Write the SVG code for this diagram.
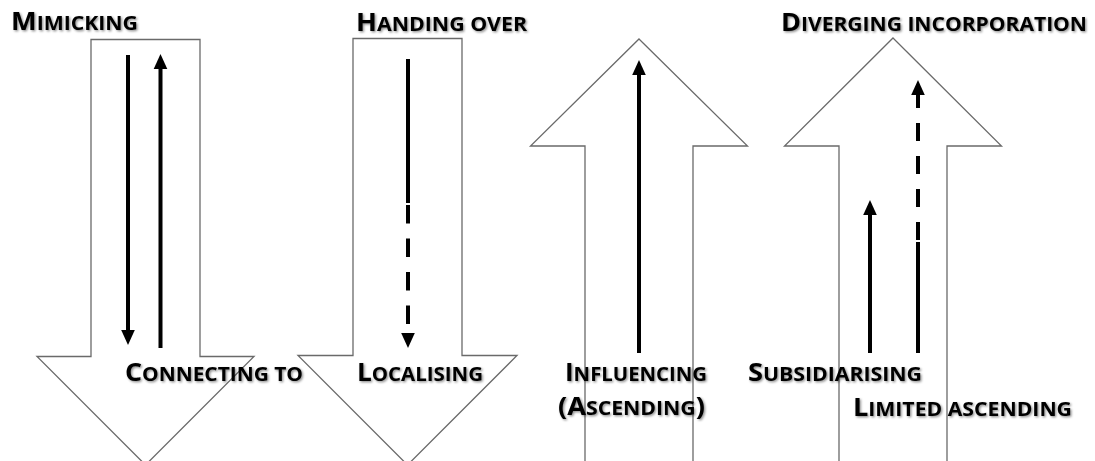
<svg xmlns="http://www.w3.org/2000/svg" xmlns:xlink="http://www.w3.org/1999/xlink" width="1095" height="461" viewBox="0 0 1095 461">
<style>
.outline{fill:#fff;stroke:#6a6a6a;stroke-width:1.3;stroke-linejoin:miter}
.shaft{stroke:#000;stroke-width:4;fill:none}
.dash{stroke:#000;stroke-width:4;fill:none;stroke-dasharray:18.5 15}
.lbl{font-family:"Open Sans","Liberation Sans",sans-serif;font-weight:700;fill:#000;filter:url(#sh)}
.b{font-size:25px}
.s{font-size:19.5px}
</style>
<defs>
<filter id="sh" x="-10%" y="-30%" width="120%" height="160%">
<feDropShadow dx="1.3" dy="1.3" stdDeviation="1.1" flood-color="#000" flood-opacity="0.45"/>
</filter>
<path id="head" d="M0,0 L6.8,15 L-6.8,15 Z" fill="#000"/>
</defs>
<rect width="1095" height="461" fill="#fff"/>

<g id="arrow-mimicking">
<polygon class="outline" points="91,39.5 200,39.5 200,356.5 254,356.5 145.5,465 37,356.5 91,356.5"/>
</g>
<g id="arrow-handing-over">
<polygon class="outline" points="353,38.5 462,38.5 462,355.5 517,355.5 407.5,465 298,355.5 353,355.5"/>
</g>
<g id="arrow-influencing">
<polygon class="outline" points="639,39 747.5,146 693,146 693,470 585,470 585,146 530.5,146"/>
</g>
<g id="arrow-diverging">
<polygon class="outline" points="893,38 1001.5,146 947,146 947,470 839,470 839,146 784.5,146"/>
</g>

<g id="connectors">
<line class="shaft" x1="128" y1="55" x2="128" y2="332"/>
<use xlink:href="#head" transform="translate(128,345) rotate(180)"/>
<line class="shaft" x1="160.5" y1="348" x2="160.5" y2="67"/>
<use xlink:href="#head" transform="translate(160.5,54)"/>

<line class="shaft" x1="408" y1="59" x2="408" y2="203"/>
<line class="dash" x1="408" y1="205" x2="408" y2="324"/>
<use xlink:href="#head" transform="translate(408,348) rotate(180)"/>

<line class="shaft" x1="639" y1="353" x2="639" y2="73"/>
<use xlink:href="#head" transform="translate(639,60)"/>

<line class="shaft" x1="870" y1="353" x2="870" y2="213"/>
<use xlink:href="#head" transform="translate(870,200)"/>

<line class="shaft" x1="918" y1="353" x2="918" y2="242"/>
<line class="dash" x1="918" y1="240" x2="918" y2="106" style="stroke-dasharray:18 15"/>
<line class="shaft" x1="918" y1="108" x2="918" y2="93"/>
<use xlink:href="#head" transform="translate(918,80)"/>
</g>

<g id="label-mimicking"><text class="lbl" x="11" y="30" textLength="127" lengthAdjust="spacingAndGlyphs"><tspan class="b">M</tspan><tspan class="s">IMICKING</tspan></text></g>
<g id="label-handing-over"><text class="lbl" x="356" y="31" textLength="171" lengthAdjust="spacingAndGlyphs"><tspan class="b">H</tspan><tspan class="s">ANDING OVER</tspan></text></g>
<g id="label-diverging"><text class="lbl" x="781" y="31" textLength="306" lengthAdjust="spacingAndGlyphs"><tspan class="b">D</tspan><tspan class="s">IVERGING INCORPORATION</tspan></text></g>
<g id="label-connecting"><text class="lbl" x="125" y="381" textLength="178" lengthAdjust="spacingAndGlyphs"><tspan class="b">C</tspan><tspan class="s">ONNECTING TO</tspan></text></g>
<g id="label-localising"><text class="lbl" x="357" y="381" textLength="126" lengthAdjust="spacingAndGlyphs"><tspan class="b">L</tspan><tspan class="s">OCALISING</tspan></text></g>
<g id="label-influencing"><text class="lbl" x="565" y="381" textLength="142" lengthAdjust="spacingAndGlyphs"><tspan class="b">I</tspan><tspan class="s">NFLUENCING</tspan></text>
<text class="lbl" x="558" y="415" textLength="147" lengthAdjust="spacingAndGlyphs"><tspan class="b">(A</tspan><tspan class="s">SCENDING</tspan><tspan class="b">)</tspan></text></g>
<g id="label-subsidiarising"><text class="lbl" x="748" y="381" textLength="174" lengthAdjust="spacingAndGlyphs"><tspan class="b">S</tspan><tspan class="s">UBSIDIARISING</tspan></text></g>
<g id="label-limited"><text class="lbl" x="853" y="416" textLength="219" lengthAdjust="spacingAndGlyphs"><tspan class="b">L</tspan><tspan class="s">IMITED ASCENDING</tspan></text></g>
</svg>
